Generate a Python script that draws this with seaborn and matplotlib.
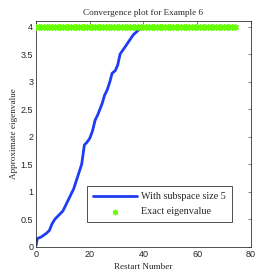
import matplotlib.pyplot as plt
import numpy as np
import pandas as pd
import seaborn as sns

# approximate eigenvalue per restart
restart = [0, 0.5, 2, 4, 5, 6, 7, 8, 10, 12, 14, 15, 16, 17, 18, 19, 20, 21, 22,
           23, 24.6, 25.5, 26.5, 27.5, 28.3, 29.5, 30.4, 31.3, 32, 33, 34.8, 36.2,
           38, 39.5, 40, 45, 50, 55, 60, 65, 70, 74]
approx = [0.02, 0.15, 0.18, 0.25, 0.3, 0.42, 0.5, 0.55, 0.65, 0.85, 1.05, 1.2, 1.35,
          1.5, 1.85, 1.9, 1.97, 2.1, 2.3, 2.4, 2.6, 2.75, 2.85, 3.0, 3.15, 3.2, 3.3,
          3.5, 3.55, 3.62, 3.75, 3.85, 3.93, 3.99, 4.0, 4.0, 4.0, 4.0, 4.0, 4.0, 4.0, 4.0]
exact_x = list(range(0, 75))
exact_val = 4.0

curve = pd.DataFrame({"Restart Number": restart, "Approximate eigenvalue": approx})
exact = pd.DataFrame({"Restart Number": exact_x, "Approximate eigenvalue": [exact_val] * len(exact_x)})

sns.set_style("white")
plt.rcParams['font.family'] = ['Liberation Sans', 'DejaVu Sans']
serif = ['Liberation Serif', 'DejaVu Serif']

fig = plt.figure(figsize=(2.77, 2.77), dpi=100)
ax = fig.add_axes([0.13, 0.109, 0.776, 0.815])

sns.lineplot(data=curve, x="Restart Number", y="Approximate eigenvalue", ax=ax,
             color='#1f3cf5', linewidth=2, label="With subspace size 5", zorder=2)
sns.scatterplot(data=exact, x="Restart Number", y="Approximate eigenvalue", ax=ax,
                marker=(6, 2, 0), s=14, color='#66ff00', edgecolor='#66ff00',
                linewidth=1.2, label="Exact eigenvalue", zorder=3)

ax.set_xlim(0, 80)
ax.set_ylim(0, 4.1)
ax.set_xticks([0, 20, 40, 60, 80])
ax.set_yticks([0, 0.5, 1, 1.5, 2, 2.5, 3, 3.5, 4])
ax.set_yticklabels(['0', '0.5', '1', '1.5', '2', '2.5', '3', '3.5', '4'])
ax.tick_params(direction='in', top=True, right=True, length=2.5, width=0.5,
               labelsize=6.5, pad=2, color='0.3')
for s in ax.spines.values():
    s.set_linewidth(0.6)
    s.set_color('0.2')
ax.set_title("Convergence plot for Example 6", family=serif, fontsize=6.6, pad=4)
ax.set_xlabel("Restart Number", family=serif, fontsize=6.6, labelpad=3)
ax.set_ylabel("Approximate eigenvalue", family=serif, fontsize=6.6, labelpad=2)

leg = ax.legend(loc='lower left', bbox_to_anchor=(0.237, 0.108), prop={'family': serif, 'size': 7.3},
                fancybox=False, framealpha=1, edgecolor='0.2', borderpad=0.6,
                borderaxespad=0, handlelength=4.3, handletextpad=0.4, markerscale=0.8,
                labelspacing=0.6)
leg.get_frame().set_linewidth(0.6)

fig.savefig("out.png", dpi=100)
